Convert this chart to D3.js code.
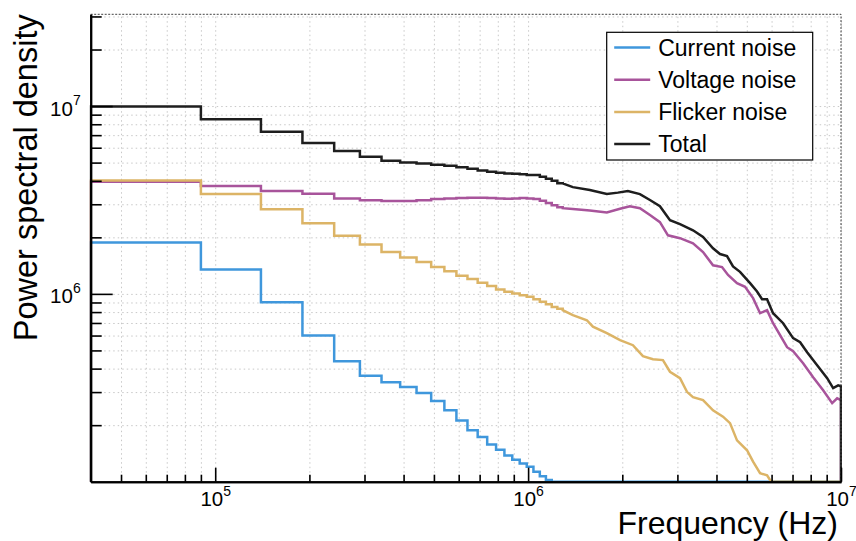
<!DOCTYPE html>
<html>
<head>
<meta charset="utf-8">
<script src="https://cdn.jsdelivr.net/npm/d3@7"></script>
<style>
  body { margin: 0; background: #fff; }
  svg { font-family: "Liberation Sans", Arial, Helvetica, sans-serif; }
  .grid line { stroke: #c8c8c8; stroke-dasharray: 1.5,3; }
  .grid path { display: none; }
  .axis path { stroke: #000; stroke-width: 2; }
  .axis line { stroke: #000; stroke-width: 1.6; }
</style>
</head>
<body>
<div id="chart"></div>
<script>
// histogram binning (Hz): equal width bins starting at the left edge of the axis
var binStart = 4e4, binWidth = 5e4;
var xDomain = [4e4, 1e7];
var yDomain = [1e5, 3.08e7];

var seriesNames = ['Current noise', 'Voltage noise', 'Flicker noise', 'Total'];
var seriesColors = ['#3f97dc', '#a8549b', '#dcb466', '#1e1e1e'];

// tick values / labels
var xMajor = [1e5, 1e6, 1e7];
var xMinor = [5e4, 6e4, 7e4, 8e4, 9e4, 2e5, 3e5, 4e5, 5e5, 6e5, 7e5, 8e5, 9e5,
              2e6, 3e6, 4e6, 5e6, 6e6, 7e6, 8e6, 9e6];
var yMajor = [1e6, 1e7];
var yMinor = [2e5, 3e5, 4e5, 5e5, 6e5, 7e5, 8e5, 9e5,
              2e6, 3e6, 4e6, 5e6, 6e6, 7e6, 8e6, 9e6, 2e7, 3e7];

// contents of the first (wide on a log axis) bins
var currentBins = [1.88e6, 1.35e6, 9.03e5, 6.00e5, 4.38e5, 3.67e5, 3.38e5, 3.19e5, 2.97e5, 2.69e5,
                   2.40e5, 2.12e5, 1.88e5, 1.73e5, 1.58e5, 1.48e5, 1.38e5, 1.31e5, 1.25e5, 1.20e5,
                   1.13e5, 1.07e5, 1.02e5];
var voltageBins = [3.95e6, 3.75e6, 3.53e6, 3.41e6, 3.22e6, 3.15e6, 3.12e6, 3.12e6, 3.15e6, 3.20e6,
                   3.22e6, 3.24e6, 3.25e6, 3.25e6, 3.24e6, 3.22e6, 3.21e6, 3.22e6, 3.24e6, 3.22e6,
                   3.20e6, 3.13e6, 3.05e6, 2.96e6, 2.89e6];
var flickerBins = [4.02e6, 3.40e6, 2.82e6, 2.38e6, 2.04e6, 1.83e6, 1.67e6, 1.56e6, 1.48e6, 1.39e6,
                   1.32e6, 1.25e6, 1.20e6, 1.145e6, 1.10e6, 1.055e6, 1.025e6, 1.005e6, 9.84e5, 9.64e5,
                   9.37e5, 9.07e5, 8.81e5, 8.52e5, 8.34e5];
var totalBins   = [9.95e6, 8.5e6, 7.3e6, 6.35e6, 5.76e6, 5.37e6, 5.11e6, 5.01e6, 4.95e6, 4.87e6,
                   4.81e6, 4.73e6, 4.63e6, 4.54e6, 4.47e6, 4.41e6, 4.38e6, 4.36e6, 4.34e6, 4.29e6,
                   4.29e6, 4.20e6, 4.10e6, 4.00e6, 3.88e6];

// [frequency, value] read along the high frequency part (bins only a few px wide there)
var currentTail = [];
var voltageTail = [[1.29e6, 2.86e6], [1.39e6, 2.83e6], [1.575e6, 2.78e6], [1.785e6, 2.71e6], [1.967e6, 2.84e6],
                   [2.115e6, 2.93e6], [2.277e6, 2.86e6], [2.451e6, 2.63e6], [2.638e6, 2.41e6], [2.799e6, 2.05e6],
                   [3.058e6, 1.98e6], [3.365e6, 1.86e6], [3.623e6, 1.67e6], [3.899e6, 1.42e6], [4.166e6, 1.39e6],
                   [4.355e6, 1.26e6], [4.652e6, 1.14e6], [4.935e6, 1.09e6], [5.236e6, 9.49e5], [5.512e6, 7.89e5],
                   [5.804e6, 8.19e5], [6.066e6, 6.98e5], [6.725e6, 5.20e5], [7.030e6, 4.95e5], [7.567e6, 4.27e5],
                   [8.146e6, 3.60e5], [8.769e6, 3.07e5], [9.370e6, 2.62e5], [9.721e6, 2.78e5], [1e7, 2.72e5]];
var flickerTail = [[1.29e6, 8.19e5], [1.39e6, 7.70e5], [1.541e6, 7.24e5], [1.611e6, 6.69e5], [1.785e6, 6.18e5],
                   [1.967e6, 5.67e5], [2.163e6, 5.33e5], [2.328e6, 4.66e5], [2.506e6, 4.49e5], [2.697e6, 4.44e5],
                   [2.841e6, 3.85e5], [3.058e6, 3.56e5], [3.219e6, 3.01e5], [3.365e6, 2.82e5], [3.623e6, 2.72e5],
                   [3.899e6, 2.40e5], [4.197e6, 2.22e5], [4.419e6, 2.05e5], [4.652e6, 1.66e5], [5.009e6, 1.47e5],
                   [5.236e6, 1.28e5], [5.512e6, 1.11e5], [5.804e6, 1.08e5], [5.98e6, 1.0e5]];
var totalTail   = [[1.29e6, 3.87e6], [1.39e6, 3.70e6], [1.575e6, 3.57e6], [1.785e6, 3.40e6], [1.936e6, 3.46e6],
                   [2.084e6, 3.53e6], [2.277e6, 3.40e6], [2.451e6, 3.16e6], [2.638e6, 2.93e6], [2.841e6, 2.47e6],
                   [3.058e6, 2.35e6], [3.365e6, 2.18e6], [3.623e6, 2.01e6], [3.899e6, 1.75e6], [4.105e6, 1.63e6],
                   [4.322e6, 1.59e6], [4.517e6, 1.40e6], [4.756e6, 1.31e6], [5.121e6, 1.14e6], [5.391e6, 1.03e6],
                   [5.594e6, 9.37e5], [5.804e6, 9.37e5], [6.066e6, 7.89e5], [6.531e6, 6.98e5], [7.030e6, 5.81e5],
                   [7.402e6, 5.53e5], [7.793e6, 4.89e5], [8.390e6, 4.17e5], [9.032e6, 3.56e5], [9.438e6, 3.15e5],
                   [9.792e6, 3.26e5], [1e7, 3.22e5]];

var allBins = [currentBins, voltageBins, flickerBins, totalBins];
var allTails = [currentTail, voltageTail, flickerTail, totalTail];

//Basic setting
var w = 856, h = 541;
var margin = {top: 14.3, right: 15, bottom: 59.3, left: 90.7};
var innerW = w - margin.left - margin.right,
    innerH = h - margin.top - margin.bottom;

var svg = d3.select('#chart').append('svg')
    .attr('width', w)
    .attr('height', h)
  .append('g')
    .attr('transform', 'translate(' + [margin.left, margin.top] + ')');

var x = d3.scaleLog().domain(xDomain).range([0, innerW]);
var y = d3.scaleLog().domain(yDomain).range([innerH, 0]).clamp(true);

//Grid (dotted, at every tick)
svg.append('g')
    .attr('class', 'grid')
    .attr('transform', 'translate(0,' + innerH + ')')
    .call(d3.axisBottom(x).tickValues(xMajor.concat(xMinor)).tickSize(-innerH).tickFormat(''));
svg.append('g')
    .attr('class', 'grid')
    .call(d3.axisLeft(y).tickValues(yMajor.concat(yMinor)).tickSize(-innerW).tickFormat(''));

//Histogram outlines
function outline(bins, tail) {
    var pts = [[binStart, yDomain[0]]];
    bins.forEach(function(v, i) {
        pts.push([binStart + i * binWidth, v]);
        pts.push([binStart + (i + 1) * binWidth, v]);
    });
    tail.forEach(function(p) { pts.push(p); });
    var last = pts[pts.length - 1];
    pts.push([last[0], yDomain[0]]);
    pts.push([xDomain[1], yDomain[0]]);
    return pts;
}

var line = d3.line()
    .x(function(d) { return x(d[0]); })
    .y(function(d) { return y(d[1]); });

svg.append('clipPath').attr('id', 'frame')
  .append('rect')
    .attr('x', -1).attr('y', -1)
    .attr('width', innerW + 2).attr('height', innerH + 2);

svg.append('g')
    .attr('clip-path', 'url(#frame)')
  .selectAll('path.hist')
    .data(allBins.map(function(b, i) { return outline(b, allTails[i]); }))
  .enter().append('path')
    .attr('class', 'hist')
    .attr('d', line)
    .style('fill', 'none')
    .style('stroke', function(d, i) { return seriesColors[i]; })
    .style('stroke-width', 2.5)
    .style('stroke-linejoin', 'miter');

//Frame top/right (dashed)
svg.append('path')
    .attr('d', 'M0,0H' + innerW + 'V' + innerH)
    .style('fill', 'none')
    .style('stroke', '#444')
    .style('stroke-width', 1)
    .style('stroke-dasharray', '2,1.5');

//Axes: minor ticks
svg.append('g')
    .attr('class', 'axis')
    .attr('transform', 'translate(0,' + innerH + ')')
    .call(d3.axisBottom(x).tickValues(xMinor).tickSize(-7).tickSizeOuter(0).tickFormat(''));
svg.append('g')
    .attr('class', 'axis')
    .call(d3.axisLeft(y).tickValues(yMinor).tickSize(-11).tickSizeOuter(0).tickFormat(''));

//Axes: major ticks with 10^n labels
var xAxis = svg.append('g')
    .attr('class', 'axis')
    .attr('transform', 'translate(0,' + innerH + ')')
    .call(d3.axisBottom(x).tickValues(xMajor).tickSize(-14).tickSizeOuter(0).tickFormat(''));
var yAxis = svg.append('g')
    .attr('class', 'axis')
    .call(d3.axisLeft(y).tickValues(yMajor).tickSize(-22).tickSizeOuter(0).tickFormat(''));

function powLabel(sel) {
    sel.each(function(d) {
        var t = d3.select(this);
        t.append('tspan').text('10');
        t.append('tspan')
            .attr('dy', -10.5)
            .style('font-size', '14px')
            .text(Math.round(Math.log10(d)));
    });
}

xAxis.selectAll('.tick text').remove();
xAxis.selectAll('.tick').append('text')
    .attr('y', 24.5)
    .attr('x', 0)
    .attr('text-anchor', 'middle')
    .style('font-size', '20.5px')
    .style('fill', '#000')
    .call(powLabel);

yAxis.selectAll('.tick text').remove();
yAxis.selectAll('.tick').append('text')
    .attr('x', -10)
    .attr('y', 9)
    .attr('text-anchor', 'end')
    .style('font-size', '20.5px')
    .style('fill', '#000')
    .call(powLabel);

//Axis titles
svg.append('text')
    .attr('x', innerW - 3)
    .attr('y', innerH + 52)
    .attr('text-anchor', 'end')
    .style('font-size', '32px')
    .text('Frequency (Hz)');

svg.append('text')
    .attr('transform', 'translate(' + (36.7 - margin.left) + ',0) rotate(-90)')
    .attr('text-anchor', 'end')
    .style('font-size', '32.5px')
    .text('Power spectral density');

//Legend
var legend = svg.append('g')
    .attr('transform', 'translate(' + (606.7 - margin.left) + ',' + (32.3 - margin.top) + ')');
legend.append('rect')
    .attr('width', 206)
    .attr('height', 127.7)
    .style('fill', '#fff')
    .style('stroke', '#000')
    .style('stroke-width', 1.2);
var item = legend.selectAll('g.item')
    .data(seriesNames)
  .enter().append('g')
    .attr('class', 'item')
    .attr('transform', function(d, i) { return 'translate(0,' + (15.2 + i * 32.2) + ')'; });
item.append('line')
    .attr('x1', 7.5).attr('x2', 43.5)
    .style('stroke', function(d, i) { return seriesColors[i]; })
    .style('stroke-width', 2.5);
item.append('text')
    .attr('x', 51.5)
    .attr('y', 8.2)
    .style('font-size', '23px')
    .text(function(d) { return d; });
</script>
</body>
</html>
